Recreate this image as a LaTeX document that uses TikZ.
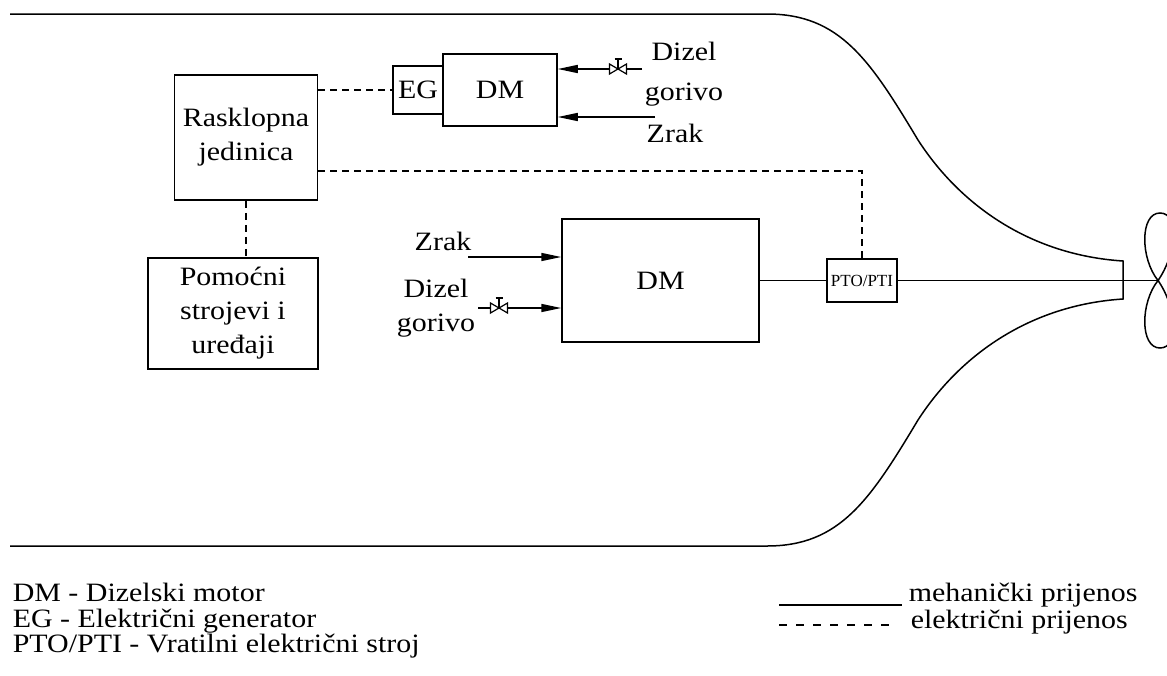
\documentclass[tikz,border=0pt]{standalone}
\usepackage{fontspec}
\setmainfont[FakeStretch=1.13]{Liberation Serif}
\newfontfamily\ptofont{Liberation Serif}
\usetikzlibrary{arrows.meta}
\newcommand{\bigtxt}{\fontsize{26.5}{34}\selectfont}

\begin{document}
\begin{tikzpicture}[x=1pt,y=-1pt,line width=1.5pt,
    box/.style={draw,inner sep=0pt,align=center,font=\bigtxt},
    elec/.style={dash pattern=on 7pt off 5pt},
    arr/.style={-{Triangle[length=20pt,width=8pt]}},
    legend/.style={font=\bigtxt,inner sep=0pt,anchor=base west},
    valve/.pic={\draw[fill=white,line width=1.2pt] (-8.5,-5) -- (8.5,5) -- (8.5,-5) -- (-8.5,5) -- cycle;
      \draw[line width=1.2pt] (0,0) -- (0,-10) (-3.5,-10) -- (3.5,-10);}]
      % \draw[very thin, gray, step=50pt] (0,0) grid (1167,675);
      \useasboundingbox (0,0) rectangle (1167,675);

      % hull
      \draw (10,14) -- (767,14) .. controls (840,14) and (870,60) .. (918,140)
        .. controls (960,205) and (1030,255) .. (1123,261) -- (1123,299)
        .. controls (1030,305) and (960,355) .. (918,420)
        .. controls (870,500) and (840,546) .. (767,546) -- (10,546);

      \node[box,minimum width=143pt,minimum height=125pt] (rj) at (246,137.5) {Rasklopna\\jedinica};
      \node[box,minimum width=170pt,minimum height=111pt] (ps) at (233,313.5) {Pomoćni\\strojevi i\\uređaji};
      \node[box,minimum width=50pt,minimum height=48pt] (eg) at (418,90) {EG};
      \node[box,minimum width=114pt,minimum height=72pt] (dmA) at (500,90) {DM};
      \node[box,minimum width=197pt,minimum height=123pt] (dmB) at (660.5,280.5) {DM};
      \node[box,font=\ptofont\fontsize{17}{20}\selectfont,minimum width=70pt,minimum height=43pt] (pto) at (862,280.5) {PTO/PTI};

      % electric
      \coordinate (bend) at (862,171);
      \draw[elec] (rj.east |- eg.west) -- (eg.west);
      \draw[elec] (rj.east |- bend) -- (bend) -- (pto.north);
      \draw[elec] (rj.south) -- (rj.south |- ps.north);

      % shaft and propeller
      \coordinate (prop) at (1158,280.5);
      \draw (dmB.east) -- (pto.west);
      \draw (pto.east) -- (prop);
      \draw (prop) .. controls (1140,258) and (1140,213) .. (1160,213) .. controls (1180,213) and (1176,255) .. (prop)
        .. controls (1140,303) and (1140,348) .. (1160,348) .. controls (1180,348) and (1176,306) .. (prop);

      % fuel and air
      \coordinate (fuelA) at (642,69);
      \coordinate (airA) at (655,117);
      \coordinate (airB) at (468,257);
      \coordinate (fuelB) at (478,308);
      \draw[arr] (fuelA) -- (fuelA -| dmA.east);
      \draw[arr] (airA) -- (airA -| dmA.east);
      \draw[arr] (airB) -- (airB -| dmB.west);
      \draw[arr] (fuelB) -- (fuelB -| dmB.west);
      \pic at (618,69) {valve};
      \pic at (499,308) {valve};

      \node[font=\fontsize{26.5}{40}\selectfont,align=center] (dgA) at (684,74) {Dizel\\gorivo};
      \node[font=\bigtxt,anchor=base] (zA) at (675,142) {Zrak};
      \node[font=\bigtxt,anchor=base] (zB) at (443,250) {Zrak};
      \node[font=\bigtxt,align=center] (dgB) at (436,308) {Dizel\\gorivo};

      % legend
      \node[legend] (lg1) at (12,601) {DM - Dizelski motor};
      \node[legend] (lg2) at (12,627) {EG - Električni generator};
      \node[legend] (lg3) at (12,652) {PTO/PTI - Vratilni električni stroj};
      \coordinate (mL) at (779,605);
      \coordinate (eL) at (779,625);
      \node[legend] (lgm) at (908,601) {mehanički prijenos};
      \node[legend] (lge) at (910,628) {električni prijenos};
      \draw (mL) -- (mL -| 902,0);
      \draw[dash pattern=on 8pt off 9pt] (eL) -- (eL -| 892,0);
    \end{tikzpicture}
\end{document}
